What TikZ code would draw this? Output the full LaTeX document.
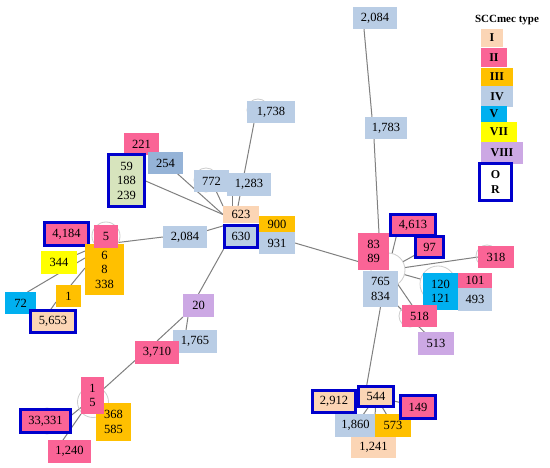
\documentclass[tikz,border=0pt]{standalone}
\usepackage{fontspec}
\setmainfont{Liberation Serif}
\pgfdeclarelayer{bg}
\pgfsetlayers{bg,main}
\definecolor{cI}{RGB}{251,213,181}
\definecolor{cII}{RGB}{250,100,150}
\definecolor{cIII}{RGB}{255,192,0}
\definecolor{cIV}{RGB}{185,205,229}
\definecolor{cV}{RGB}{0,176,240}
\definecolor{cVII}{RGB}{255,255,0}
\definecolor{cVIII}{RGB}{204,168,228}
\definecolor{cG}{RGB}{215,228,189}
\definecolor{cS}{RGB}{149,179,215}
\definecolor{cB}{RGB}{0,0,204}
\definecolor{cE}{RGB}{128,128,128}
\definecolor{cC}{RGB}{205,205,205}
\tikzset{
  cellbox/.style={inner sep=0pt, outer sep=0pt, align=center, text=black,
    font=\fontsize{12.5}{14.5}\selectfont},
  legbox/.style={cellbox, font=\bfseries\fontsize{12}{14}\selectfont},
  link/.style={draw=cE, line width=1pt},
  ring/.style={circle, draw=cC, line width=0.8pt, inner sep=0pt, outer sep=0pt}
}
\newcommand\bx[8][]{\node[cellbox,fill=#3,minimum width={(#6)-(#4)},minimum height={(#7)-(#5)},#1] (#2) at ({((#4)+(#6))/2},{((#5)+(#7))/2}) {#8};}
\newcommand\obx[8][]{\node[cellbox,fill=#3,draw=cB,line width=3pt,minimum width={(#6)-(#4)-3},minimum height={(#7)-(#5)-3},#1] (#2) at ({((#4)+(#6))/2},{((#5)+(#7))/2}) {#8};}
\begin{document}
\begin{tikzpicture}[x=1pt,y=-1pt]
\useasboundingbox (0,0) rectangle (550,468);
\begin{pgfonlayer}{bg}
\fill[white] (0,0) rectangle (550,468);
\end{pgfonlayer}
% rings
\node[ring, minimum size=34pt] (cR) at (388,270) {};
\node[ring, minimum size=36pt] (c120) at (438,284) {};
\node[ring, minimum size=28pt] (c5) at (106,236) {};
\node[ring, minimum size=31pt] (c15) at (93,402) {};
\node[ring, minimum size=24pt] (c772) at (206,180) {};
\node[ring, minimum size=22pt] (c1738) at (258,110) {};
\node[ring, minimum size=22pt] (c318) at (487,256) {};
\node[ring, minimum size=22pt] (c518) at (410,316) {};
\node[ring, minimum size=26pt] (c333) at (47,421) {};
% legend
\node[font=\bfseries\fontsize{11}{13}\selectfont, inner sep=0pt] (ltitle) at (507,20) {SCCmec type};
\bx[legbox]{LI}{cI}{481}{29}{503}{47}{I}
\bx[legbox]{LII}{cII}{481}{48}{507}{67}{II}
\bx[legbox]{LIII}{cIII}{481}{68}{513}{86}{III}
\bx[legbox]{LIV}{cIV}{481}{86}{513}{107}{IV}
\bx[legbox]{LV}{cV}{481}{106}{507}{122}{V}
\bx[legbox]{LVII}{cVII}{481}{122}{517}{142}{VII}
\bx[legbox]{LVIII}{cVIII}{481}{142}{523}{164}{VIII}
\obx[legbox]{LOR}{white}{478}{162}{513}{202}{O\\[1pt]R}
% center-left cluster
\bx{n221}{cII}{124}{133}{159}{155}{221}
\obx{n59}{cG}{107}{153}{146}{208}{59\\188\\239}
\bx{n254}{cS}{148}{152}{183}{174}{254}
\bx{n772}{cIV}{194}{170}{229}{192}{772}
\bx{n1283}{cIV}{227}{173}{271}{196}{1,283}
\bx{n1738}{cIV}{247}{101}{295}{123}{1,738}
\bx{n623}{cI}{223}{206}{259}{223}{623}
\obx{n630}{cIV}{223}{224}{259}{249}{630}
\bx{n900}{cIII}{259}{216}{295}{232}{900}
\bx{n931}{cIV}{259}{232}{295}{254}{931}
\bx{n2084a}{cIV}{163}{226}{207}{248}{2,084}
% left cluster
\obx{n4184}{cII}{43}{221}{90}{247}{4,184}
\bx{n68}{cIII}{85}{244}{124}{295}{6\\8\\338}
\bx{n5}{cII}{94}{225}{118}{248}{5}
\bx{n344}{cVII}{41}{251}{77}{274}{344}
\bx{n1}{cIII}{56}{285}{81}{307}{1}
\bx{n72}{cV}{5}{292}{36}{314}{72}
\obx{n5653}{cI}{29}{309}{77}{334}{5,653}
% lower-left chain
\bx{n20}{cVIII}{183}{294}{214}{317}{20}
\bx{n1765}{cIV}{173}{330}{217}{353}{1,765}
\bx{n3710}{cII}{135}{341}{179}{364}{3,710}
\bx{n368}{cIII}{96}{403}{131}{441}{368\\585}
\bx{n15}{cII}{81}{377}{104}{414}{1\\5}
\obx{n33331}{cII}{19}{408}{72}{434}{33,331}
\bx{n1240}{cII}{48}{440}{91}{463}{1,240}
% right cluster
\bx{n2084t}{cIV}{353}{7}{397}{29}{2,084}
\bx{n1783}{cIV}{365}{117}{407}{139}{1,783}
\bx{n8389}{cII}{358}{233}{389}{270}{83\\89}
\bx{n765}{cIV}{363}{271}{398}{307}{765\\834}
\obx{n4613}{cII}{389}{213}{437}{237}{4,613}
\obx{n97}{cII}{414}{235}{445}{259}{97}
\bx{n318}{cII}{478}{246}{514}{268}{318}
\bx{n120}{cV}{423}{273}{458}{310}{120\\121}
\bx{n101}{cII}{458}{273}{492}{288}{101}
\bx{n493}{cIV}{458}{288}{492}{311}{493}
\bx{n518}{cII}{402}{305}{437}{327}{518}
\bx{n513}{cVIII}{418}{332}{454}{355}{513}
% bottom-right cluster
\bx{n1860}{cIV}{335}{414}{376}{437}{1,860}
\bx{n573}{cIII}{375}{414}{411}{437}{573}
\bx{n1241}{cI}{351}{437}{396}{458}{1,241}
\obx{n2912}{cI}{311}{389}{357}{414}{2,912}
\obx{n544}{cI}{357}{385}{395}{408}{544}
\obx{n149}{cII}{399}{394}{437}{420}{149}
% connectors
\begin{pgfonlayer}{bg}
\draw[link] (n59.east) -- (n623.west);
\draw[link] (n254.center) -- (n623.west);
\draw[link] (n772.center) -- (n623.north west);
\draw[link] ([xshift=5pt]n1283.south west) -- ([xshift=9pt]n623.north west);
\draw[link] ([xshift=7pt]n1738.south west) -- ([xshift=15pt]n623.north west);
\draw[link] (n2084a.center) -- (n630.north west);
\draw[link] ([yshift=-6pt]n5.east) -- (n2084a.west);
\draw[link] (n931.east) -- ([yshift=-10pt]n8389.west);
\draw[link] (n630.south west) -- (n20.north);
\draw[link] (n20.south west) -- (n3710.north);
\draw[link] ([xshift=5pt]n20.south west) -- ([xshift=13pt]n1765.north west);
\draw[link] ([yshift=-8pt]n3710.west) -- ([yshift=7pt]n15.east);
\draw[link] ([yshift=-12pt]n15.west) -- ([yshift=5pt]n33331.east);
\draw[link] (n15.south west) -- ([xshift=15pt]n1240.north west);
\draw[link] ([yshift=-7pt]n68.north west) -- ([yshift=8pt]n344.east);
\draw[link] ([yshift=-14pt]n68.north west) -- ([xshift=7pt]n72.north);
\draw[link] ([yshift=-24pt]n68.north west) -- ([xshift=15pt]n1.north west);
\draw[link] ([yshift=-17pt]n1.north west) -- ([xshift=-3pt]n5653.north);
\draw[link] ([xshift=11pt]n2084t.south west) -- ([xshift=7pt]n1783.north west);
\draw[link] ([xshift=9pt]n1783.south west) -- ([xshift=21pt]n8389.north west);
\draw[link] (cR) -- ([xshift=6pt]n4613.south west);
\draw[link] (cR) -- (n97);
\draw[link] (cR) -- (n318.west);
\draw[link] (cR) -- (c120);
\draw[link] (cR) -- (n518);
\draw[link] (n765.center) -- (n513.center);
\draw[link] (n765.south) -- ([xshift=8pt]n544.north west);
\draw[link] (n544.center) -- (n2912.center);
\draw[link] (n544.center) -- (n1860.center);
\draw[link] (n544.center) -- (n573.center);
\draw[link] (n544.center) -- (n149.center);
\draw[link] (n544.center) -- (n1241.center);
\end{pgfonlayer}
\end{tikzpicture}
\end{document}
